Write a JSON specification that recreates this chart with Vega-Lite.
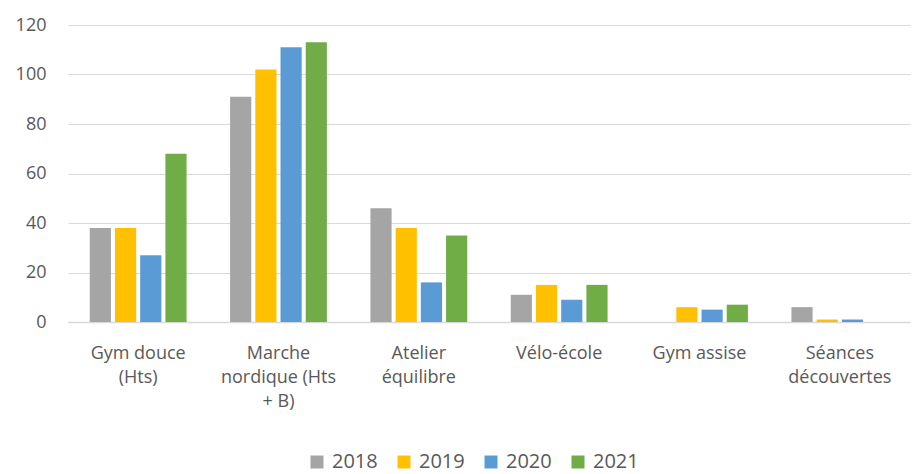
{
  "$schema": "https://vega.github.io/schema/vega-lite/v6.json",
  "width": 842,
  "height": 297,
  "autosize": {"type": "none"},
  "padding": {"left": 68, "top": 25, "right": 2, "bottom": 152},
  "background": "white",
  "config": {
    "view": {"stroke": null},
    "font": "Open Sans"
  },
  "data": {
    "values": [
      {"activite": "Gym douce (Hts)", "annee": "2018", "valeur": 38},
      {"activite": "Gym douce (Hts)", "annee": "2019", "valeur": 38},
      {"activite": "Gym douce (Hts)", "annee": "2020", "valeur": 27},
      {"activite": "Gym douce (Hts)", "annee": "2021", "valeur": 68},
      {"activite": "Marche nordique (Hts + B)", "annee": "2018", "valeur": 91},
      {"activite": "Marche nordique (Hts + B)", "annee": "2019", "valeur": 102},
      {"activite": "Marche nordique (Hts + B)", "annee": "2020", "valeur": 111},
      {"activite": "Marche nordique (Hts + B)", "annee": "2021", "valeur": 113},
      {"activite": "Atelier équilibre", "annee": "2018", "valeur": 46},
      {"activite": "Atelier équilibre", "annee": "2019", "valeur": 38},
      {"activite": "Atelier équilibre", "annee": "2020", "valeur": 16},
      {"activite": "Atelier équilibre", "annee": "2021", "valeur": 35},
      {"activite": "Vélo-école", "annee": "2018", "valeur": 11},
      {"activite": "Vélo-école", "annee": "2019", "valeur": 15},
      {"activite": "Vélo-école", "annee": "2020", "valeur": 9},
      {"activite": "Vélo-école", "annee": "2021", "valeur": 15},
      {"activite": "Gym assise", "annee": "2018", "valeur": 0},
      {"activite": "Gym assise", "annee": "2019", "valeur": 6},
      {"activite": "Gym assise", "annee": "2020", "valeur": 5},
      {"activite": "Gym assise", "annee": "2021", "valeur": 7},
      {"activite": "Séances découvertes", "annee": "2018", "valeur": 6},
      {"activite": "Séances découvertes", "annee": "2019", "valeur": 1},
      {"activite": "Séances découvertes", "annee": "2020", "valeur": 1},
      {"activite": "Séances découvertes", "annee": "2021", "valeur": 0}
    ]
  },
  "mark": {"type": "bar"},
  "encoding": {
    "x": {
      "field": "activite",
      "type": "nominal",
      "sort": null,
      "scale": {"paddingInner": 0.31, "paddingOuter": 0.155},
      "axis": {
        "title": null,
        "labelAngle": 0,
        "labelFontSize": 18,
        "labelColor": "#595959",
        "labelPadding": 22,
        "labelLineHeight": 24,
        "labelBaseline": "top",
        "ticks": false,
        "domainColor": "#D9D9D9",
        "domainWidth": 1.5,
        "labelExpr": "datum.value == 'Gym douce (Hts)' ? ['Gym douce', '(Hts)'] : datum.value == 'Marche nordique (Hts + B)' ? ['Marche', 'nordique (Hts', '+ B)'] : datum.value == 'Atelier équilibre' ? ['Atelier', 'équilibre'] : datum.value == 'Séances découvertes' ? ['Séances', 'découvertes'] : datum.value"
      }
    },
    "xOffset": {
      "field": "annee",
      "type": "nominal",
      "scale": {"paddingInner": 0.16}
    },
    "y": {
      "field": "valeur",
      "type": "quantitative",
      "scale": {"domain": [0, 120]},
      "axis": {
        "title": null,
        "values": [0, 20, 40, 60, 80, 100, 120],
        "labelFontSize": 18,
        "labelColor": "#595959",
        "labelPadding": 22,
        "ticks": false,
        "domain": false,
        "gridColor": "#D9D9D9",
        "gridWidth": 1
      }
    },
    "color": {
      "field": "annee",
      "type": "nominal",
      "scale": {
        "domain": ["2018", "2019", "2020", "2021"],
        "range": ["#A5A5A5", "#FFC000", "#5B9BD5", "#70AD47"]
      },
      "legend": {
        "title": null,
        "orient": "none",
        "direction": "horizontal",
        "legendX": 239,
        "legendY": 427,
        "symbolType": "square",
        "symbolSize": 169,
        "symbolStrokeWidth": 0,
        "labelFontSize": 20,
        "labelColor": "#595959",
        "columnPadding": 16,
        "labelOffset": 5
      }
    }
  }
}
